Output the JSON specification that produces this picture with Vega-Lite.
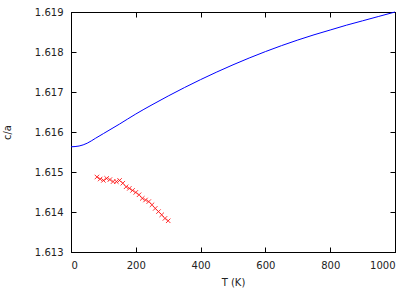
{
  "$schema": "https://vega.github.io/schema/vega-lite/v6.json",
  "width": 324,
  "height": 240,
  "autosize": {"type": "none"},
  "padding": {"left": 71, "top": 12, "right": 20, "bottom": 39},
  "background": "white",
  "config": {
    "view": {"stroke": "black", "strokeWidth": 1},
    "font": "DejaVu Sans",
    "axis": {
      "grid": false,
      "zindex": 1,
      "domainColor": "black",
      "tickColor": "black",
      "tickWidth": 1,
      "labelOverlap": false,
      "labelFontSize": 10,
      "labelColor": "#222",
      "titleFontSize": 10,
      "titleFontWeight": "normal",
      "titleColor": "#222",
      "labelFont": "DejaVu Sans",
      "titleFont": "DejaVu Sans"
    }
  },
  "datasets": {
    "calc": [
      {"T": 0, "ca": 1.61563}, {"T": 25, "ca": 1.61565}, {"T": 50, "ca": 1.61572},
      {"T": 75, "ca": 1.61584}, {"T": 100, "ca": 1.61596}, {"T": 150, "ca": 1.61620},
      {"T": 200, "ca": 1.61645}, {"T": 250, "ca": 1.61668}, {"T": 300, "ca": 1.61690},
      {"T": 350, "ca": 1.61711}, {"T": 400, "ca": 1.61731}, {"T": 450, "ca": 1.61750},
      {"T": 500, "ca": 1.61768}, {"T": 550, "ca": 1.61785}, {"T": 600, "ca": 1.61801},
      {"T": 650, "ca": 1.61816}, {"T": 700, "ca": 1.61830}, {"T": 750, "ca": 1.61843},
      {"T": 800, "ca": 1.61855}, {"T": 850, "ca": 1.61867}, {"T": 900, "ca": 1.61878},
      {"T": 950, "ca": 1.61889}, {"T": 1000, "ca": 1.61900}
    ],
    "exp": [
      {"T": 80, "ca": 1.614875}, {"T": 90, "ca": 1.614825}, {"T": 100, "ca": 1.61479},
      {"T": 110, "ca": 1.61484}, {"T": 120, "ca": 1.61481}, {"T": 130, "ca": 1.61476},
      {"T": 140, "ca": 1.61476}, {"T": 150, "ca": 1.61479}, {"T": 160, "ca": 1.61472},
      {"T": 170, "ca": 1.61463}, {"T": 180, "ca": 1.61459}, {"T": 190, "ca": 1.61454},
      {"T": 200, "ca": 1.61449}, {"T": 210, "ca": 1.61443}, {"T": 220, "ca": 1.61434},
      {"T": 230, "ca": 1.6143}, {"T": 240, "ca": 1.61426}, {"T": 250, "ca": 1.61418},
      {"T": 260, "ca": 1.61409}, {"T": 270, "ca": 1.61401}, {"T": 280, "ca": 1.61393},
      {"T": 290, "ca": 1.61384}, {"T": 300, "ca": 1.61378}
    ]
  },
  "resolve": {"axis": {"x": "independent", "y": "independent"}},
  "layer": [
    {
      "data": {"name": "calc"},
      "mark": {"type": "line", "color": "#0000ff", "strokeWidth": 1, "interpolate": "monotone"},
      "encoding": {
        "x": {"field": "T", "type": "quantitative", "scale": {"domain": [0, 1000], "nice": false},
          "axis": {"title": "T (K)", "values": [0, 200, 400, 600, 800, 1000], "format": "d", "ticks": true, "tickSize": -5, "labelPadding": 13, "titlePadding": 7}},
        "y": {"field": "ca", "type": "quantitative", "scale": {"domain": [1.613, 1.619], "nice": false, "zero": false},
          "axis": {"title": "c/a", "values": [1.613, 1.614, 1.615, 1.616, 1.617, 1.618, 1.619], "format": ".3f", "ticks": true, "tickSize": -5, "labelPadding": 13, "titlePadding": 22}}
      }
    },
    {
      "data": {"name": "exp"},
      "mark": {"type": "point", "shape": "M-1,-1L1,1M-1,1L1,-1", "filled": false, "color": "#ff0000", "strokeWidth": 0.8, "size": 20, "opacity": 1},
      "encoding": {
        "x": {"field": "T", "type": "quantitative",
          "axis": {"orient": "top", "labels": false, "title": null, "ticks": true, "tickSize": -5, "values": [0, 200, 400, 600, 800, 1000]}},
        "y": {"field": "ca", "type": "quantitative",
          "axis": {"orient": "right", "labels": false, "title": null, "ticks": true, "tickSize": -5, "values": [1.613, 1.614, 1.615, 1.616, 1.617, 1.618, 1.619]}}
      }
    }
  ]
}
